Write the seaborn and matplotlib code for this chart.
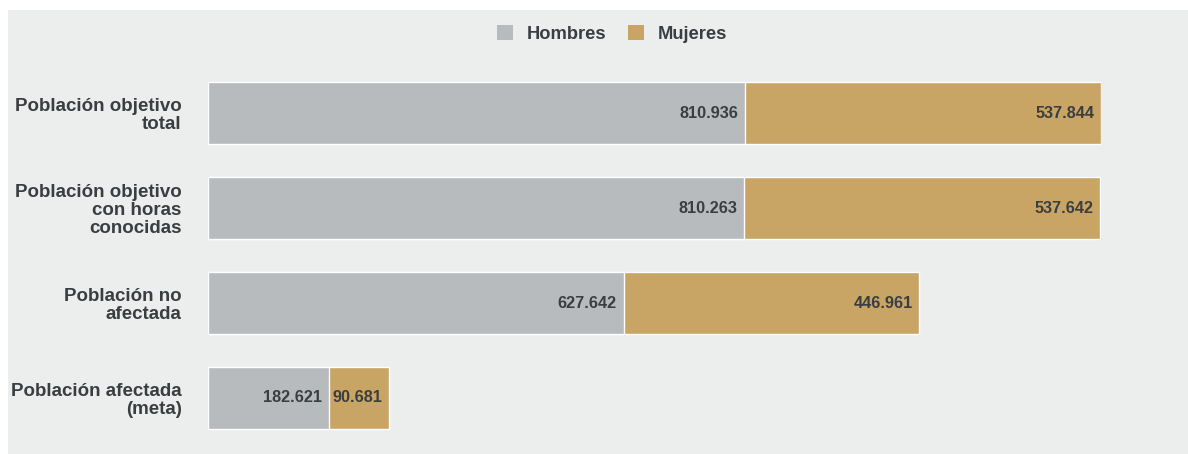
import matplotlib
matplotlib.use("Agg")
import matplotlib.pyplot as plt
import seaborn as sns
import pandas as pd
from matplotlib.patches import Rectangle

categories = ["Población objetivo\ntotal",
              "Población objetivo\ncon horas\nconocidas",
              "Población no\nafectada",
              "Población afectada\n(meta)"]
hombres = [810936, 810263, 627642, 182621]
mujeres = [537844, 537642, 446961, 90681]
series = ["Hombres", "Mujeres"]

C_H = "#b7bbbe"
C_M = "#c8a465"
BG = "#eceeed"
TXT = "#3b3e41"

sns.set_theme(style="white")
plt.rcParams['font.family'] = ['Liberation Sans', 'DejaVu Sans']

df = pd.DataFrame({"cat": categories, "Hombres": hombres, "Mujeres": mujeres})
df["total"] = df["Hombres"] + df["Mujeres"]

W, H = 1188, 454
fig = plt.figure(figsize=(W / 100, H / 100), dpi=100)
fig.patch.set_facecolor("white")
fig.patches.append(Rectangle((8 / W, 0), 1 - 8 / W, 1 - 10 / H, transform=fig.transFigure,
                             facecolor=BG, edgecolor="none", zorder=-10))

left, right = 208, 1101
top_y, bot_y = 65.5, 445.5
ax = fig.add_axes([left / W, 1 - bot_y / H, (right - left) / W, (bot_y - top_y) / H])
ax.set_facecolor("none")

bw = 62 / 95
sns.barplot(data=df, x="total", y="cat", color=C_M, saturation=1, width=bw,
            edgecolor="white", linewidth=1, ax=ax, orient="h")
sns.barplot(data=df, x="Hombres", y="cat", color=C_H, saturation=1, width=bw,
            edgecolor="white", linewidth=1, ax=ax, orient="h")

ax.set_xlim(0, max(df["total"]))
ax.set_ylim(3.5, -0.5)
ax.set_xlabel("")
ax.set_ylabel("")
ax.set_xticks([])
for s in ax.spines.values():
    s.set_visible(False)
ax.tick_params(axis="y", length=0, pad=19)
for lab in ax.get_yticklabels():
    lab.set_fontweight("bold")
    lab.set_fontsize(13.5)
    lab.set_color(TXT)
    lab.set_horizontalalignment("right")
    lab.set_multialignment("right")
    lab.set_linespacing(1.08)

def fmt(v):
    return f"{v:,}".replace(",", ".")

for i, (h, m) in enumerate(zip(hombres, mujeres)):
    ax.annotate(fmt(h), (h, i), xytext=(-5, 0), textcoords="offset points",
                ha="right", va="center", fontsize=11.7, fontweight="bold", color=TXT)
    ax.annotate(fmt(m), (h + m, i), xytext=(-5, 0), textcoords="offset points",
                ha="right", va="center", fontsize=11.7, fontweight="bold", color=TXT)

handles = [Rectangle((0, 0), 1, 1, facecolor=C_H, edgecolor="none"),
           Rectangle((0, 0), 1, 1, facecolor=C_M, edgecolor="none")]
leg = fig.legend(handles, series, loc="center", bbox_to_anchor=(612 / W, 1 - 34 / H),
                 ncol=2, frameon=False, handlelength=0.85, handleheight=0.85,
                 handletextpad=0.75, columnspacing=1.2,
                 prop={"weight": "bold", "size": 13.2})
for t in leg.get_texts():
    t.set_color(TXT)

fig.savefig("out.png", dpi=100, facecolor=fig.get_facecolor())
